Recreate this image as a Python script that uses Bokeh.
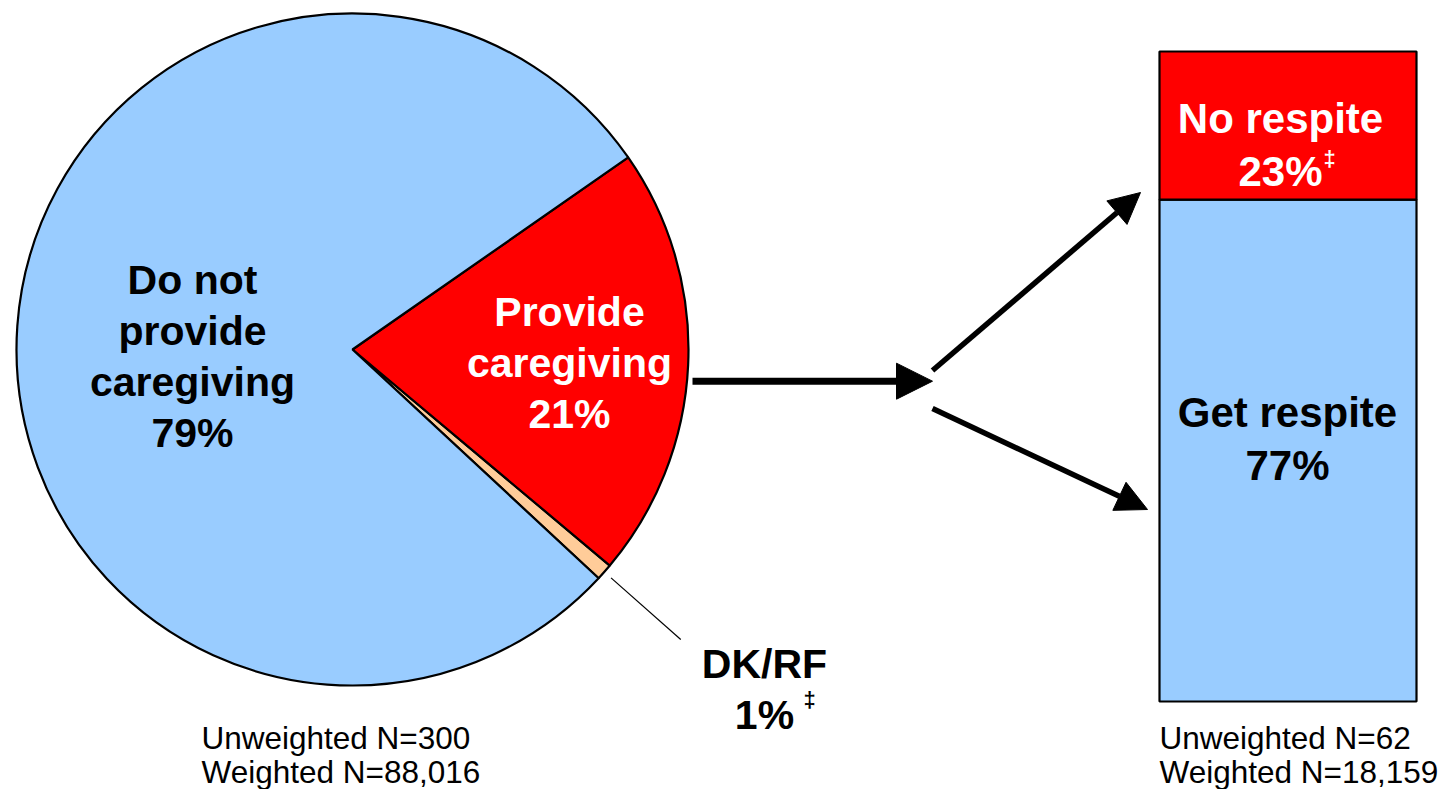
import numpy as np
from bokeh.plotting import figure
from bokeh.models import Range1d, Arrow, NormalHead, ColumnDataSource, Label
from bokeh.core.properties import value
from bokeh.embed import file_html
from bokeh.resources import INLINE

# ---------------- data ----------------
pie_categories = ["DK/RF", "Provide caregiving", "Do not provide caregiving"]
pie_values = [0.8, 20.8, 78.4]
pie_colors = ["#FFCC99", "#FF0000", "#99CCFF"]

bar_categories = ["Get respite", "No respite"]
bar_values = [77.2, 22.8]
bar_colors = ["#99CCFF", "#FF0000"]

blue_label = ["Do not", "provide", "caregiving", "79%"]
red_label = ["Provide", "caregiving", "21%"]
dk_label = ["DK/RF", "1%"]
no_respite_label = ["No respite", "23%"]
get_respite_label = ["Get respite", "77%"]
left_n = ["Unweighted N=300", "Weighted N=88,016"]
right_n = ["Unweighted N=62", "Weighted N=18,159"]
dagger = "\u2021"

# ---------------- layout ----------------
W, H = 1446, 789
TOP = 789  # screen y -> data y = TOP - screen_y
FONT = "Liberation Sans"
BIG = "41px"


def sy(y):
    return TOP - y


p = figure(width=W, height=H, x_range=Range1d(0, W), y_range=Range1d(0, H),
           output_backend="svg", toolbar_location=None, min_border=0,
           x_axis_location=None, y_axis_location=None)
p.grid.visible = False
p.outline_line_color = None
p.background_fill_color = "white"
p.border_fill_color = "white"

# ---------------- pie ----------------
cx, cy, r = 352, sy(349), 336
start_deg = -42.9
vals = np.array(pie_values, dtype=float)
cum = np.concatenate([[0], np.cumsum(vals)]) / vals.sum() * 360.0
starts = np.deg2rad(start_deg + cum[:-1])
ends = np.deg2rad(start_deg + cum[1:])
pie_src = ColumnDataSource(dict(cat=pie_categories, start=starts, end=ends, color=pie_colors))
p.wedge(x=cx, y=cy, radius=r, start_angle="start", end_angle="end", source=pie_src,
        fill_color="color", line_color="black", line_width=2.2)

# leader line for DK/RF slice (computed from slice's mid-angle)
mid = (starts[0] + ends[0]) / 2
p.segment(x0=[cx + 345 * np.cos(mid)], y0=[cy + 345 * np.sin(mid)],
          x1=[cx + 438 * np.cos(mid)], y1=[cy + 438 * np.sin(mid)],
          line_color="black", line_width=1.2)

# ---------------- stacked bar ----------------
bar_bottom_px, bar_top_px = sy(701), sy(51)
px_per_pct = (bar_top_px - bar_bottom_px) / 100.0
p.extra_y_ranges = {"pct": Range1d(0 - (bar_bottom_px - 0) / px_per_pct,
                                   100 + (H - bar_top_px) / px_per_pct)}
bv = np.array(bar_values, dtype=float)
bcum = np.concatenate([[0], np.cumsum(bv)])
bar_src = ColumnDataSource(dict(cat=bar_categories, bottom=bcum[:-1], top=bcum[1:], color=bar_colors))
p.vbar(x=1287.5, width=257, bottom="bottom", top="top", source=bar_src, y_range_name="pct",
       fill_color="color", line_color="black", line_width=2.2)

# ---------------- arrows ----------------
p.add_layout(Arrow(x_start=692, y_start=sy(380.7), x_end=932, y_end=sy(380.7),
                   line_width=7, line_color="black",
                   end=NormalHead(size=36, fill_color="black", line_color="black", line_width=1)))
p.add_layout(Arrow(x_start=932, y_start=sy(370), x_end=1140, y_end=sy(192),
                   line_width=5.5, line_color="black",
                   end=NormalHead(size=31, fill_color="black", line_color="black", line_width=1)))
p.add_layout(Arrow(x_start=932, y_start=sy(408), x_end=1147, y_end=sy(509),
                   line_width=5.5, line_color="black",
                   end=NormalHead(size=31, fill_color="black", line_color="black", line_width=1)))


# ---------------- texts (y = visual middle of the line) ----------------
def lines(texts, x, centers, color="black", size=BIG, style="bold", align="center"):
    for t, c in zip(texts, centers):
        p.add_layout(Label(x=x, y=sy(c), text=t, text_font=FONT, text_font_size=size,
                           text_font_style=style, text_color=color, text_align=align,
                           text_baseline="middle"))


lines(blue_label, 192, [279, 330, 381, 432])
lines(red_label, 569, [311, 362, 413], color="white")
lines(dk_label, 764, [663, 714])
lines([dagger], 803, [699], size="22px", align="left")
lines(no_respite_label, 1280, [118, 171], size="42px", color="white")
lines([dagger], 1323, [158], size="22px", align="left", color="white")
lines(get_respite_label, 1287, [412, 465], size="42px")
lines(left_n, 201, [737, 771], size="31.5px", style="normal", align="left")
lines(right_n, 1159, [737, 771], size="31.5px", style="normal", align="left")

open("out.html", "w").write(file_html(p, INLINE))
